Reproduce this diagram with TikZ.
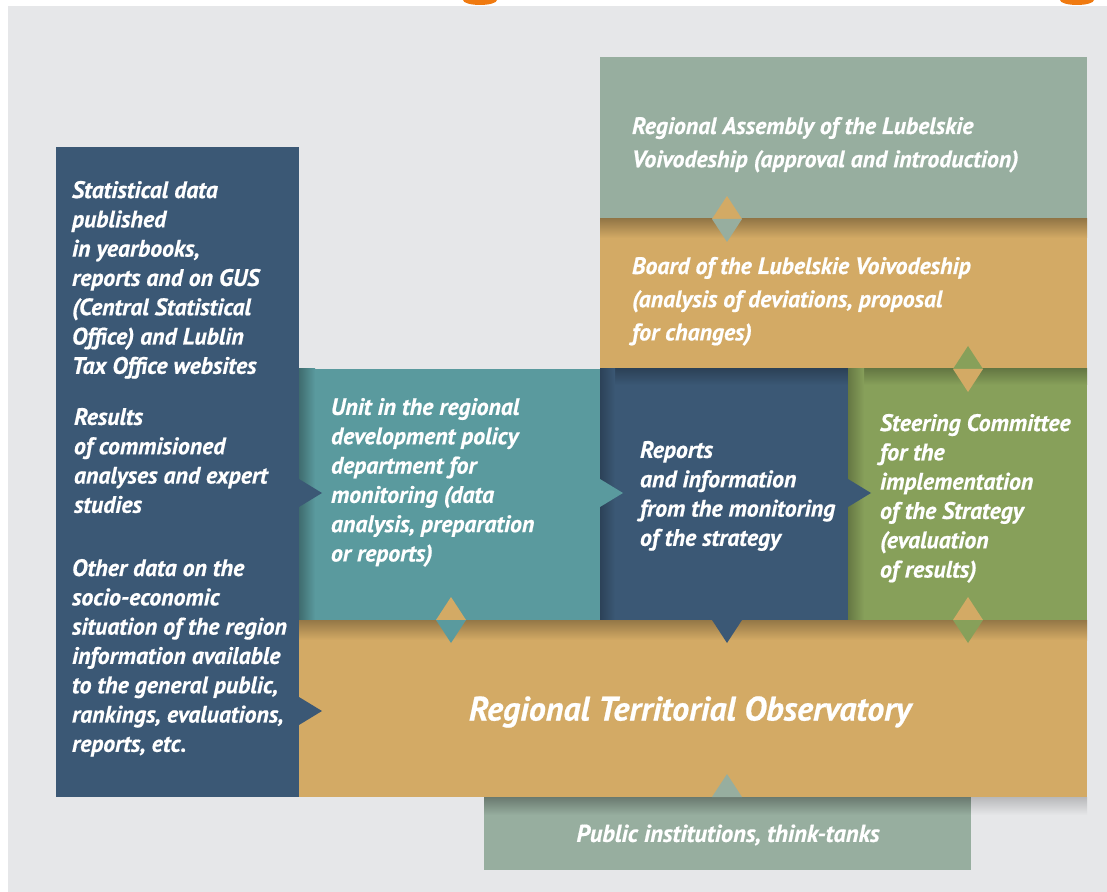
\documentclass[tikz,border=0pt]{standalone}
\usepackage{fontspec}
\setmainfont{PT Sans}[BoldItalicFeatures={FakeBold=0.6}]
\usetikzlibrary{fit}
\definecolor{bggray}{HTML}{E6E7E9}
\definecolor{navy}{HTML}{3B5875}
\definecolor{teal}{HTML}{5A9A9E}
\definecolor{sage}{HTML}{97AE9F}
\definecolor{tan}{HTML}{D3AA65}
\definecolor{olive}{HTML}{87A05A}
\definecolor{blob}{HTML}{F07A10}
\begin{document}
\begin{tikzpicture}[x=0.5pt,y=-0.5pt,inner sep=0pt,outer sep=0pt,
box/.style={fill=#1,inner sep=0pt},
txt/.style={anchor=north west,align=left,text=white,font=\bfseries\itshape\fontsize{11.9}{14.65}\selectfont},
wide/.style={txt,font=\bfseries\itshape\fontsize{11.9}{16.6}\selectfont}]

\useasboundingbox (0,0) rectangle (1107,892);
\fill[white] (0,0) rectangle (1107,892);
\fill[bggray] (8,6) rectangle (1107,892);
\fill[blob] (463,0) arc[start angle=180,end angle=0,x radius=17,y radius=5];
\fill[blob] (1060,0) arc[start angle=180,end angle=0,x radius=17,y radius=5];

\node[box=navy,fit={(56,147) (299,797)}] (src) {};
\node[box=sage,fit={(600,57) (1087,219)}] (assembly) {};
\node[box=tan,fit={(600,219) (1087,369)}] (board) {};
\node[box=teal,fit={(299,369) (600,620)}] (unit) {};
\node[box=navy,fit={(600,369) (848,620)}] (rep) {};
\node[box=olive,fit={(848,369) (1087,620)}] (steer) {};
\node[box=sage,fit={(484,797) (971,870)}] (pub) {};
\node[box=tan,fit={(299,620) (1087,797)}] (obs) {};

\shade[top color=tan!70!black,bottom color=tan] (board.north west) rectangle ([yshift=-9.5pt]board.north east);
\shade[left color=teal!70!black,right color=teal] (unit.north west) rectangle ([xshift=8pt]unit.south west);
\shade[top color=navy!75!black,bottom color=navy] (rep.north west) rectangle ([yshift=-8pt]rep.north east);
\shade[left color=navy!75!black,right color=navy] (rep.north west) rectangle ([xshift=7.5pt]rep.south west);
\shade[top color=olive!75!black,bottom color=olive] (steer.north west) rectangle ([yshift=-8pt]steer.north east);
\shade[left color=olive!75!black,right color=olive] (steer.north west) rectangle ([xshift=8pt]steer.south west);
\shade[top color=tan!70!black,bottom color=tan] (obs.north west) rectangle ([yshift=-10pt]obs.north east);
\shade[top color=sage!70!black,bottom color=sage] (pub.north west) rectangle ([yshift=-9pt]pub.north east);
\shade[top color=bggray!80!black,bottom color=bggray] (pub.north east) rectangle ([yshift=-9pt]obs.south east);

\fill[navy] (src.east |- 0,479) -- ++(23,14) -- ++(-23,14) -- cycle;
\fill[navy] (src.east |- 0,697) -- ++(23,14) -- ++(-23,14) -- cycle;
\fill[teal] (unit.east |- 0,479) -- ++(23,14) -- ++(-23,14) -- cycle;
\fill[navy] (rep.east |- 0,479) -- ++(23,14) -- ++(-23,14) -- cycle;
\fill[navy] (rep.south -| 712,0) -- ++(15,23) -- ++(15,-23) -- cycle;
\fill[tan] (unit.south -| 436,0) -- ++(15,-23) -- ++(15,23) -- cycle;
\fill[teal] (unit.south -| 436,0) -- ++(15,23) -- ++(15,-23) -- cycle;
\fill[tan] (steer.south -| 953,0) -- ++(15,-23) -- ++(15,23) -- cycle;
\fill[olive] (steer.south -| 953,0) -- ++(15,23) -- ++(15,-23) -- cycle;
\fill[olive] (steer.north -| 953,0) -- ++(15,-23) -- ++(15,23) -- cycle;
\fill[tan] (steer.north -| 953,0) -- ++(15,23) -- ++(15,-23) -- cycle;
\fill[tan] (assembly.south -| 712,0) -- ++(15,-23) -- ++(15,23) -- cycle;
\fill[sage] (assembly.south -| 712,0) -- ++(15,23) -- ++(15,-23) -- cycle;
\fill[sage] (pub.north -| 712,0) -- ++(15,-23) -- ++(15,23) -- cycle;

\node[txt] (srcA) at (72,181) {Statistical data\\published\\in yearbooks,\\reports and on GUS\\(Central Statistical\\Office) and Lublin\\Tax Office websites};
\node[txt] (srcB) at (74,408) {Results\\of commisioned\\analyses and expert\\studies};
\node[txt] (srcC) at (72,559) {Other data on the\\socio-economic\\situation of the region\\information available\\to the general public,\\rankings, evaluations,\\reports, etc.};
\node[txt] (unittxt) at (331,398) {Unit in the regional\\development policy\\department for\\monitoring (data\\analysis, preparation\\or reports)};
\node[txt] (reptxt) at (640,441) {Reports\\and information\\from the monitoring\\of the strategy};
\node[txt] (steertxt) at (880,414) {Steering Committee\\for the\\implementation\\of the Strategy\\(evaluation\\of results)};
\node[wide] (assemblytxt) at (632,117) {Regional Assembly of the Lubelskie\\Voivodeship (approval and introduction)};
\node[wide] (boardtxt) at (632,257) {Board of the Lubelskie Voivodeship\\(analysis of deviations, proposal\\for changes)};
\node[text=white,font=\bfseries\itshape\fontsize{17}{20}\selectfont] (obstxt) at (690,712) {Regional Territorial Observatory};
\node[text=white,font=\bfseries\itshape\fontsize{12.2}{14}\selectfont] (pubtxt) at (728,835) {Public institutions, think-tanks};

\end{tikzpicture}
\end{document}
